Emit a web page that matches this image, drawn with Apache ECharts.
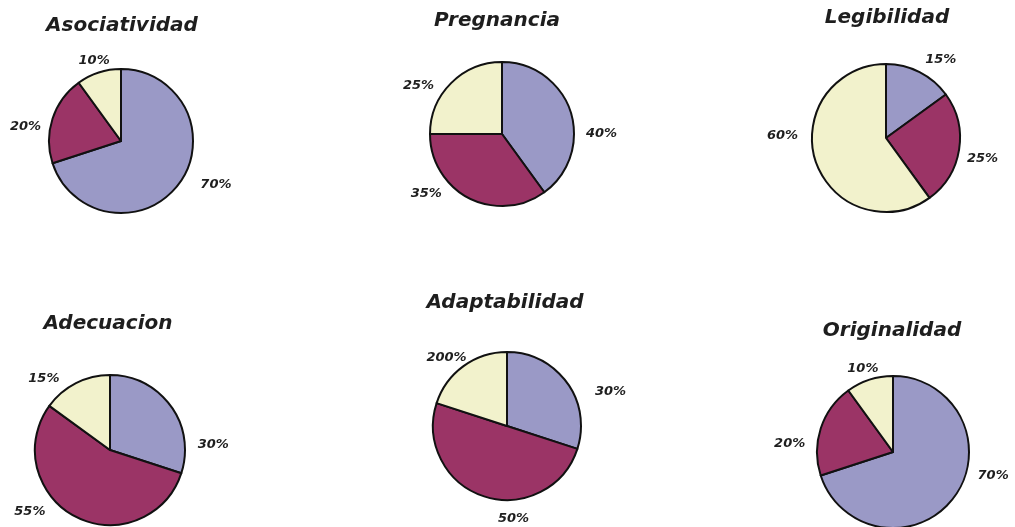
<!DOCTYPE html>
<html>
<head>
<meta charset="utf-8">
<script src="https://cdn.jsdelivr.net/npm/echarts@6/dist/echarts.min.js"></script>
<style>
  html, body { margin: 0; padding: 0; background: #fff; }
  #main { width: 1015px; height: 527px; }
</style>
</head>
<body>
<div id="main"></div>
<script>
// one pie per criterion, slices in order: lavender, maroon, cream
var titles = ['Asociatividad', 'Pregnancia', 'Legibilidad', 'Adecuacion', 'Adaptabilidad', 'Originalidad'];
var lavender = [70, 40, 15, 30, 30, 70];
var maroon = [20, 35, 25, 55, 50, 20];
var cream = [10, 25, 60, 15, 20, 10];
// labels as printed (the original prints 200% for the 20% slice)
var labelTexts = [
    ['70%', '20%', '10%'],
    ['40%', '35%', '25%'],
    ['15%', '25%', '60%'],
    ['30%', '55%', '15%'],
    ['30%', '50%', '200%'],
    ['70%', '20%', '10%']
];
var colors = ['#9a99c6', '#9b3466', '#f2f2cc'];

// layout
var centers = [[121, 141], [502, 134], [886, 138], [110, 450], [507, 426], [893, 452]];
var radii = [72, 72, 74, 75, 74, 76];
var titlePos = [[117, 11], [492, 6], [882, 3], [103, 309], [500, 288], [887, 316]];
// hand placed labels in the original, nudged from the default outside spot
var labelNudge = [
    [[4, -5], [7, 11], [23, -2]],
    [[-3, 25], [-14, -13], [-1, 10]],
    [[-8, -4], [-11, 7], [1, -28]],
    [[10, 45], [-17, -14], [-3, 4]],
    [[11, 15], [57, 13], [18, 0]],
    [[6, -27], [3, 18], [21, -2]]
];

var myChart = echarts.init(document.getElementById('main'));

var font = '"DejaVu Sans", sans-serif';
var title = [];
var series = [];
titles.forEach(function (name, i) {
    title.push({
        text: name,
        left: titlePos[i][0],
        top: titlePos[i][1],
        textAlign: 'center',
        textStyle: {
            fontFamily: font,
            fontSize: 20,
            fontWeight: 'bold',
            fontStyle: 'italic',
            color: '#1e1e1e'
        }
    });
    var vals = [lavender[i], maroon[i], cream[i]];
    series.push({
        type: 'pie',
        center: centers[i],
        radius: [0, radii[i]],
        startAngle: 90,
        clockwise: true,
        animation: false,
        silent: true,
        avoidLabelOverlap: false,
        data: vals.map(function (v, k) {
            return {
                value: v,
                name: labelTexts[i][k],
                itemStyle: { color: colors[k] }
            };
        }),
        itemStyle: {
            borderColor: '#111',
            borderWidth: 2
        },
        label: {
            show: true,
            position: 'outside',
            formatter: '{b}',
            fontFamily: font,
            fontSize: 13,
            fontWeight: 'bold',
            fontStyle: 'italic',
            color: '#1e1e1e'
        },
        labelLine: {
            show: false,
            length: 10,
            length2: 4
        },
        labelLayout: function (params) {
            var n = labelNudge[i][params.dataIndex];
            return { dx: n[0], dy: n[1] };
        }
    });
});

option = {
    backgroundColor: '#fff',
    title: title,
    series: series
};
myChart.setOption(option);
</script>
</body>
</html>
